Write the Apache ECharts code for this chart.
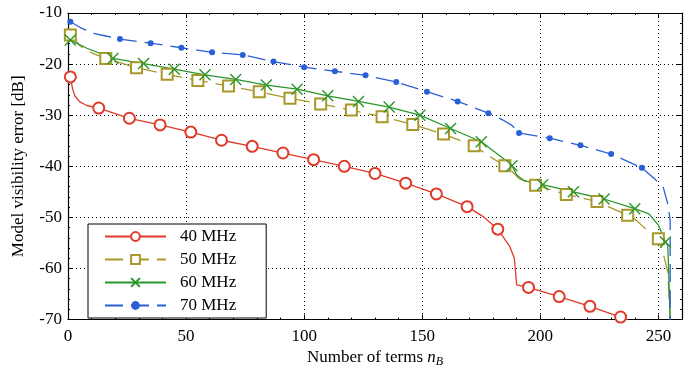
<!DOCTYPE html>
<html>
<head>
<meta charset="utf-8">
<script src="https://cdn.jsdelivr.net/npm/echarts@6/dist/echarts.min.js"></script>
<style>
  html, body { margin: 0; padding: 0; background: #fff; }
  #chart { width: 694px; height: 373px; }
</style>
</head>
<body>
<div id="chart"></div>
<script>
// [n_B, error dB]; marks = n_B values that carry a marker
const mhz40Line = [[1, -22.5], [2, -25.0], [3, -26.3], [5, -27.4], [8, -28.1], [13, -28.6], [26, -30.6],
  [39, -31.9], [52, -33.3], [65, -34.9], [78, -36.1], [91, -37.4], [104, -38.7], [117, -40.0],
  [130, -41.4], [143, -43.3], [156, -45.4], [169, -47.9], [176, -49.9], [182, -52.3], [185, -54.3],
  [187, -55.6], [189, -58.0], [190, -63.2], [195, -63.7], [208, -65.5], [221, -67.4], [234, -69.5], [237, -70]]
const mhz40Marks = [1, 13, 26, 39, 52, 65, 78, 91, 104, 117, 130, 143, 156, 169, 182, 195, 208, 221, 234]

const mhz50Line = [[1, -14.3], [3, -15.2], [5, -16.4], [8, -17.3], [11, -18.0], [16, -18.9], [29, -20.7],
  [42, -22.0], [55, -23.2], [68, -24.3], [81, -25.4], [94, -26.7], [107, -27.8], [120, -29.0],
  [133, -30.3], [146, -31.8], [159, -33.7], [172, -36.0], [180, -38.5], [185, -39.9], [188, -41.0],
  [191, -42.4], [198, -43.7], [211, -45.5], [224, -46.9], [237, -49.6], [240, -50.3], [244, -52.0],
  [247, -53.0], [250, -54.2], [251, -55.3], [253, -58.8], [254, -60.7], [255, -70]]
const mhz50Marks = [1, 16, 29, 42, 55, 68, 81, 94, 107, 120, 133, 146, 159, 172, 185, 198, 211, 224, 237, 250]

const mhz60Line = [[1, -15.3], [8, -16.9], [19, -18.9], [32, -19.9], [45, -21.0], [58, -22.1], [71, -23.0],
  [84, -24.1], [97, -24.9], [110, -26.2], [123, -27.3], [136, -28.4], [149, -30.0], [162, -32.6],
  [175, -35.2], [181, -37.3], [185, -38.7], [188, -39.9], [190, -41.7], [193, -42.8], [201, -43.6],
  [214, -45.0], [227, -46.4], [240, -48.3], [246, -49.3], [250, -51.5], [253, -54.8], [254, -55.6], [255, -70]]
const mhz60Marks = [1, 19, 32, 45, 58, 71, 84, 97, 110, 123, 136, 149, 162, 175, 188, 201, 214, 227, 240, 253]

const mhz70Line = [[1, -11.7], [5, -12.8], [10, -13.9], [16, -14.5], [22, -15.1], [35, -15.9], [48, -16.8],
  [61, -17.7], [74, -18.2], [87, -19.5], [100, -20.6], [113, -21.4], [126, -22.2], [139, -23.5],
  [152, -25.4], [165, -27.3], [178, -29.6], [184, -30.9], [188, -32.0], [191, -33.5], [204, -34.5],
  [217, -35.9], [230, -37.6], [243, -40.3], [248, -42.3], [252, -44.0], [254, -47.4], [255, -50.6], [255, -70]]
const mhz70Marks = [1, 22, 35, 48, 61, 74, 87, 100, 113, 126, 139, 152, 165, 178, 191, 204, 217, 230, 243]

const seriesNames = ['40 MHz', '50 MHz', '60 MHz', '70 MHz']

const serif = '"Liberation Serif", "DejaVu Serif", serif'
const crossPath = 'path://M0,0L10,10M10,0L0,10'

const toData = (line, marks) =>
  line.map(([x, y]) => (marks.includes(x) ? [x, y] : { value: [x, y], symbol: 'none' }))

const lineCommon = {
  type: 'line',
  showSymbol: true,
  showAllSymbol: true,
  animation: false,
  xAxisIndex: 0,
  yAxisIndex: 0,
}

const boxAxis = {
  axisLine: { show: true, onZero: false, lineStyle: { color: '#000', width: 1.2 } },
  axisTick: { show: true, inside: true, length: 5, lineStyle: { color: '#000' } },
  minorTick: { show: true, splitNumber: 5, length: 2, lineStyle: { color: '#000' } },
  axisLabel: { show: false },
  splitLine: { show: false },
}

const chart = echarts.init(document.getElementById('chart'))
chart.setOption({
  backgroundColor: '#fff',
  animation: false,
  grid: { left: 68, right: 12, top: 13, bottom: 44 },
  legend: {
    data: seriesNames,
    orient: 'vertical',
    left: 88,
    top: 224,
    itemWidth: 61,
    itemHeight: 11,
    itemGap: 6,
    padding: [4, 30, 4, 16],
    borderColor: '#000',
    borderWidth: 1,
    borderRadius: 0,
    backgroundColor: '#fff',
    textStyle: { fontFamily: serif, fontSize: 17, color: '#000', padding: [0, 0, 0, 9] },
  },
  xAxis: [
    {
      type: 'value',
      min: 0,
      max: 260,
      interval: 50,
      name: '{a|Number of terms }{i|n}{s|B}',
      nameLocation: 'middle',
      nameGap: 19,
      nameTextStyle: {
        rich: {
          a: { fontFamily: serif, fontSize: 17, color: '#000', lineHeight: 20 },
          i: { fontFamily: serif, fontSize: 17, fontStyle: 'italic', color: '#000', lineHeight: 20 },
          s: { fontFamily: serif, fontSize: 12, fontStyle: 'italic', color: '#000', lineHeight: 12, verticalAlign: 'bottom' },
        },
      },
      axisLine: { show: true, onZero: false, lineStyle: { color: '#000', width: 1.2 } },
      axisTick: { show: true, inside: true, length: 5, lineStyle: { color: '#000' } },
      minorTick: { show: true, splitNumber: 5, length: 2, lineStyle: { color: '#000' } },
      axisLabel: {
        fontFamily: serif, fontSize: 17, color: '#000', margin: 8,
        formatter: v => (v % 50 === 0 ? String(v) : ''),
      },
      splitLine: { show: true, lineStyle: { color: '#000', type: [1, 3], width: 1 } },
    },
    { type: 'value', min: 0, max: 260, interval: 50, position: 'top', ...boxAxis },
  ],
  yAxis: [
    {
      type: 'value',
      min: -70,
      max: -10,
      interval: 10,
      name: 'Model visibility error [dB]',
      nameLocation: 'middle',
      nameGap: 41,
      nameTextStyle: { fontFamily: serif, fontSize: 17, color: '#000' },
      axisLine: { show: true, onZero: false, lineStyle: { color: '#000', width: 1.2 } },
      axisTick: { show: true, inside: true, length: 5, lineStyle: { color: '#000' } },
      minorTick: { show: true, splitNumber: 5, length: 2, lineStyle: { color: '#000' } },
      axisLabel: { fontFamily: serif, fontSize: 17, color: '#000', margin: 6 },
      splitLine: { show: true, lineStyle: { color: '#000', type: [1, 3], width: 1 } },
    },
    { type: 'value', min: -70, max: -10, interval: 10, position: 'right', ...boxAxis },
  ],
  series: [
    {
      ...lineCommon,
      name: seriesNames[0],
      data: toData(mhz40Line, mhz40Marks),
      symbol: 'emptyCircle',
      symbolSize: 11,
      lineStyle: { color: '#e03a2a', width: 1.3 },
      itemStyle: { color: '#e03a2a', borderColor: '#e03a2a', borderWidth: 1.2 },
    },
    {
      ...lineCommon,
      name: seriesNames[1],
      data: toData(mhz50Line, mhz50Marks),
      symbol: 'emptyRect',
      symbolSize: 11,
      lineStyle: { color: '#a8982a', width: 1.3, type: [18, 8] },
      itemStyle: { color: '#a8982a', borderColor: '#a8982a', borderWidth: 1.3 },
    },
    {
      ...lineCommon,
      name: seriesNames[2],
      data: toData(mhz60Line, mhz60Marks),
      symbol: crossPath,
      symbolSize: 11,
      lineStyle: { color: '#2a962a', width: 1.3 },
      itemStyle: { color: 'transparent', borderColor: '#2a962a', borderWidth: 1.4 },
    },
    {
      ...lineCommon,
      name: seriesNames[3],
      data: toData(mhz70Line, mhz70Marks),
      symbol: 'circle',
      symbolSize: 6,
      lineStyle: { color: '#2a5fd6', width: 1.3, type: [18, 8] },
      itemStyle: { color: '#2a5fd6' },
    },
  ],
})
</script>
</body>
</html>
